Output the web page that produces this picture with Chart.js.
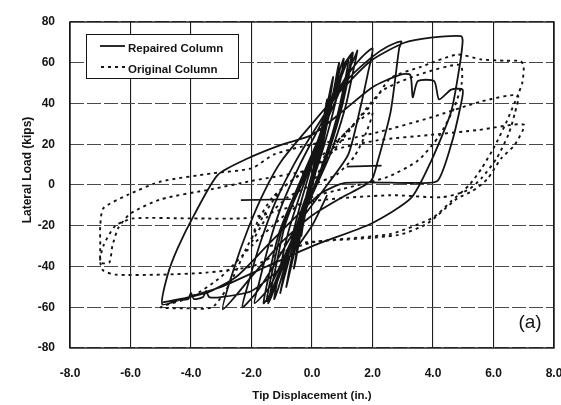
<!DOCTYPE html>
<html>
<head>
<meta charset="utf-8">
<script src="https://cdn.jsdelivr.net/npm/chart.js@4/dist/chart.umd.min.js"></script>
<style>
html,body{margin:0;padding:0;background:#fff;}
#wrap{width:561px;height:405px;position:relative;}
</style>
</head>
<body>
<div id="wrap"><canvas id="c" width="561" height="405"></canvas></div>
<script>
// ---- tick labels ----
const xTickValues = [-8, -6, -4, -2, 0, 2, 4, 6, 8];
const xTickLabels = ['-8.0', '-6.0', '-4.0', '-2.0', '0.0', '2.0', '4.0', '6.0', '8.0'];
const yTickValues = [-80, -60, -40, -20, 0, 20, 40, 60, 80];
const yTickLabels = ['-80', '-60', '-40', '-20', '0', '20', '40', '60', '80'];

const seriesNames = ['Repaired Column', 'Original Column'];
const xTitle = 'Tip Displacement (in.)';
const yTitle = 'Lateral Load (kips)';
const panelLabel = '(a)';

// ---- Repaired column (solid) : displacement (in.) / load (kips) ----
const repairedDisp = [
  0, 0.15, 0.3, 0.25, 0.1, -0.1, -0.3, -0.35, -0.25, -0.05,
  0.2, 0.45, 0.5, 0.4, 0.2, 0, -0.3, -0.55, -0.6, -0.45, -0.2,
  0.1, 0.4, 0.65, 0.7, 0.6, 0.35, 0.1, -0.2, -0.5, -0.8, -0.85, -0.7, -0.4,
  -0.1, 0.3, 0.7, 0.85, 0.9, 0.8, 0.5, 0.2, -0.2, -0.6, -1.0, -1.05, -0.9, -0.6,
  -0.3, 0.2, 0.6, 0.95, 1.05, 0.95, 0.6, 0.2, -0.3, -0.7, -1.1, -1.25, -1.1, -0.8,
  -0.4, 0.2, 0.7, 1.15, 1.3, 1.2, 0.9, 0.4, -0.2, -0.8, -1.3, -1.5, -1.35, -1.0,
  -0.6, 0, 0.6, 1.0, 1.2, 1.1, 0.8, 0.3, -0.3, -0.9, -1.35, -1.45, -1.25, -0.9,
  -0.5, 0.1, 0.7, 1.1, 1.35, 1.25, 0.95, 0.45, -0.2, -0.9, -1.4, -1.6, -1.45, -1.1,
  -0.5, 0.2, 0.8, 1.2, 1.45, 1.5, 1.35, 1.1, 0.6, 0, -0.7, -1.4, -1.9, -1.75, -1.4, -1.0,
  -0.4, 0.3, 1.0, 1.6, 2.0, 1.85, 1.6, 1.2, 0.5, -0.4, -1.2, -1.8, -2.3, -2.1, -1.7, -1.2,
  -0.6, 0.3, 1.2, 2.0, 2.5, 2.95, 2.88, 2.6, 2.17, 1.95, 1.0, 0, -1.0, -2.0, -2.95,
  -2.58, -2.1, -1.57, -1.0,
  0, 1.0, 1.95, 3.05, 3.93, 4.93, 4.98, 4.87, 4.6, 3.93, 3.27, 1.95, 0.07, -1.5, -3.0, -4.3, -4.95,
  -4.77, -4.44, -3.9, -3.12, -2.13, -1.02, 0,
  1.0, 2.0, 2.93, 3.25, 3.33, 3.5, 4.04, 4.2, 4.6, 4.98, 4.92, 4.6, 4.15, 3.4, 1.1, 0.3, -0.5, -1.5, -2.5, -3.5, -4.9,
  -4.5, -4.1, -4.0, -3.9, -3.6, -3.5, -3.4, -3.0, -2.0, -1.0, 0, 0.5
];
const repairedLoad = [
  0, 12, 25, 18, 5, -6, -20, -25, -15, 0,
  18, 38, 42, 30, 15, 0, -18, -38, -41, -28, -8,
  12, 32, 50, 53, 43, 22, 5, -10, -28, -47, -50, -38, -18,
  0, 22, 45, 57, 60, 50, 30, 10, -8, -28, -50, -53, -42, -22,
  -5, 20, 40, 58, 62, 52, 30, 10, -10, -30, -50, -56, -44, -24,
  -5, 20, 42, 60, 64, 55, 35, 10, -10, -32, -52, -57, -45, -22,
  -8, 12, 38, 56, 62, 52, 32, 8, -14, -38, -55, -58, -44, -20,
  -4, 18, 44, 60, 65, 56, 36, 12, -12, -36, -54, -58, -46, -24,
  -2, 22, 42, 56, 64, 66, 55, 38, 15, -5, -28, -50, -58, -48, -28, -10,
  10, 30, 50, 62, 67, 55, 38, 15, 0, -18, -38, -52, -60, -48, -28, -8,
  10, 32, 52, 63, 68, 70.5, 67, 36, 11.5, 2, -6, -15, -28, -45, -61,
  -41, -21, -3, 12,
  30, 47, 61, 69.8, 72.3, 73.1, 70.6, 57.5, 36, 11.5, -6.5, -19, -29.6, -40, -50, -56, -58.5,
  -44, -31, -14.8, 4.9, 13, 19.7, 24.6,
  36, 48, 54.2, 54, 43, 51, 51, 42, 46.8, 46.8, 39.4, 19.7, 2, 1, 1, -4, -15, -30, -45, -53, -57.5,
  -56.5, -56, -53, -56, -55, -52, -55, -55, -52, -40, -20, -5
];
// short flat segments of the repaired column
const repairedFlatADisp = [1.15, 2.3];
const repairedFlatALoad = [9, 9.5];
const repairedFlatBDisp = [-2.35, -0.7];
const repairedFlatBLoad = [-7.4, -7];

// ---- Original column (dotted) ----
const originalDisp = [
  0, 0.5, 1.0, 1.5, 2.0,
  1.8, 1.4, 0.8, 0, -0.8, -1.5, -2.0,
  -1.8, -1.3, -0.6, 0.4, 1.2, 2.3, 3.5, 4.9,
  4.95, 4.7, 4.2, 3.5, 2.5, 1.0, 0, -1, -2, -3, -4, -5,
  -4.2, -3.3, -2.7, -2.2, -1.6, -1.0, 0, 1.0, 2.0, 2.6, 3.6, 4.8, 5.6, 6.4, 6.9,
  7.0, 6.95, 6.8, 6.4, 6.0, 5.6, 5.2, 4.6, 4.0, 2.6, 0.07, -1.0, -2, -3.5, -5, -6.5, -6.9,
  -7, -7, -7, -6.9, -6.1, -5, -3.3, -2, -1.25, 0, 1.0, 2.2, 3.9, 5.6, 6.8,
  6.7, 6.5, 6.1, 5.6, 5.15, 4.3, 2.6, 0, -2, -4, -5.9, -6.5, -6.9, -7,
  -6.7, -6.6, -6.4, -6.0, -5, -3.3, -2, 0, 0.63, 2.2, 3.93, 5.5, 7.0,
  6.7, 6.25, 5.8, 5.3, 4.8, 3.8, 2.83, 0.07, -1.5
];
const originalLoad = [
  0, 14, 24, 31, 36,
  26, 14, 5, 0, -6, -16, -28,
  -18, -6, 3, 12, 26, 46, 54, 59,
  50, 38, 24, 12, 4, -2, -6, -16, -30, -45, -55, -60,
  -60.5, -60, -48, -32, -15, -2, 10, 24, 40, 52.5, 58, 64, 61.6, 61, 60.8,
  58, 50, 44, 30, 18, 8, 0, -8, -16, -24, -28, -33, -40, -43, -44, -44, -42,
  -38, -30, -20, -11.5, -4.9, 1.7, 5.7, 8.2, 15, 20, 22, 26, 33, 41, 44,
  35, 25, 13, 3.3, -2.5, -6, -5, -8, -16, -16.4, -16.4, -20, -30, -38,
  -38, -30, -21, -14, -7, -2, 2, 8, 16.6, 22, 24.6, 27, 29.6,
  19.7, 13, 3, -3, -6.6, -19, -24.6, -27.8, -30
];

function pts(xs, ys) { return xs.map((x, i) => ({x: x, y: ys[i]})); }

const INK = '#141414';
const FONT = 'Arial, "Liberation Sans", Helvetica, sans-serif';

const decorPlugin = {
  id: 'decor',
  beforeDraw(chart) {
    const ctx = chart.ctx;
    ctx.save();
    ctx.fillStyle = '#ffffff';
    ctx.fillRect(0, 0, chart.width, chart.height);
    ctx.restore();
  },
  afterDraw(chart) {
    const ctx = chart.ctx;
    const a = chart.chartArea;
    ctx.save();
    // plot frame
    ctx.strokeStyle = INK;
    ctx.lineWidth = 1.4;
    ctx.strokeRect(a.left, a.top, a.right - a.left, a.bottom - a.top);
    // legend box
    ctx.fillStyle = '#fff';
    ctx.fillRect(86.5, 34.5, 152, 44);
    ctx.lineWidth = 1;
    ctx.strokeRect(86.5, 34.5, 152, 44);
    ctx.strokeStyle = INK;
    ctx.lineWidth = 1.8;
    ctx.beginPath(); ctx.moveTo(100, 46); ctx.lineTo(125, 46); ctx.stroke();
    ctx.setLineDash([3, 4]);
    ctx.beginPath(); ctx.moveTo(101, 67); ctx.lineTo(126, 67); ctx.stroke();
    ctx.setLineDash([]);
    ctx.fillStyle = INK;
    ctx.font = 'bold 11.5px ' + FONT;
    ctx.textAlign = 'left';
    ctx.textBaseline = 'middle';
    ctx.fillText(seriesNames[0], 128, 48.5);
    ctx.fillText(seriesNames[1], 128, 69.5);
    // axis titles
    ctx.textAlign = 'center';
    ctx.font = 'bold 11.5px ' + FONT;
    ctx.fillText(xTitle, 312, 396);
    ctx.save();
    ctx.translate(28, 170);
    ctx.rotate(-Math.PI / 2);
    ctx.font = 'bold 12px ' + FONT;
    ctx.fillText(yTitle, 0, 0);
    ctx.restore();
    // panel label
    ctx.font = '19px ' + FONT;
    ctx.fillText(panelLabel, 530, 323);
    ctx.restore();
  }
};

const lineBase = {
  showLine: true, pointRadius: 0, pointHoverRadius: 0,
  borderColor: INK, tension: 0.22, fill: false
};

new Chart(document.getElementById('c'), {
  type: 'scatter',
  data: {
    datasets: [
      Object.assign({}, lineBase, {label: seriesNames[1], data: pts(originalDisp, originalLoad), borderWidth: 1.9, borderDash: [3, 4]}),
      Object.assign({}, lineBase, {label: seriesNames[0], data: pts(repairedDisp, repairedLoad), borderWidth: 1.8}),
      Object.assign({}, lineBase, {label: seriesNames[0] + ' a', data: pts(repairedFlatADisp, repairedFlatALoad), borderWidth: 1.6, tension: 0}),
      Object.assign({}, lineBase, {label: seriesNames[0] + ' b', data: pts(repairedFlatBDisp, repairedFlatBLoad), borderWidth: 1.6, tension: 0})
    ]
  },
  options: {
    responsive: false,
    animation: false,
    devicePixelRatio: 1,
    layout: {padding: {left: 0, right: 7, top: 22, bottom: 0}},
    plugins: {legend: {display: false}, tooltip: {enabled: false}},
    scales: {
      x: {
        type: 'linear', min: -8, max: 8,
        afterBuildTicks: s => { s.ticks = xTickValues.map(v => ({value: v})); },
        afterFit: s => { s.height = 57; s.paddingLeft = 0; s.paddingRight = 0; },
        ticks: {
          callback: (v) => { const i = xTickValues.indexOf(v); return i >= 0 ? xTickLabels[i] : ''; },
          color: INK, font: {family: FONT, size: 12, weight: 'bold'}, padding: 18, maxRotation: 0, autoSkip: false
        },
        grid: {color: '#1e1e1e', lineWidth: 1.1, drawTicks: false},
        border: {display: false}
      },
      y: {
        type: 'linear', min: -80, max: 80,
        afterBuildTicks: s => { s.ticks = yTickValues.map(v => ({value: v})); },
        afterFit: s => { s.width = 70; s.paddingTop = 0; s.paddingBottom = 0; },
        ticks: {
          callback: (v) => { const i = yTickValues.indexOf(v); return i >= 0 ? yTickLabels[i] : ''; },
          color: INK, font: {family: FONT, size: 12, weight: 'bold'}, padding: 15, autoSkip: false
        },
        grid: {color: '#4a4a4a', lineWidth: 1.1, drawTicks: false},
        border: {display: false, dash: [14, 3]}
      }
    }
  },
  plugins: [decorPlugin]
});
</script>
</body>
</html>
